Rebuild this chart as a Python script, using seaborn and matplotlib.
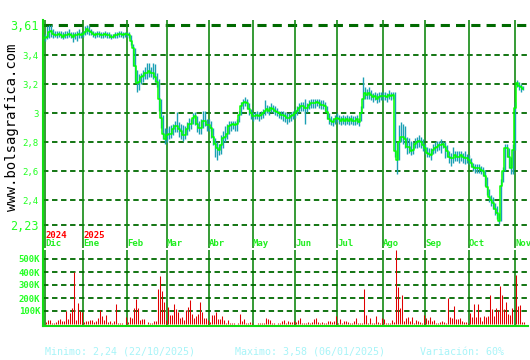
import numpy as np
import pandas as pd
import matplotlib
matplotlib.use('Agg')
import matplotlib.pyplot as plt
from matplotlib import transforms
import seaborn as sns

# ---------------- data (daily, trading days) ----------------
months = ['Dic', 'Ene', 'Feb', 'Mar', 'Abr', 'May', 'Jun', 'Jul', 'Ago', 'Sep', 'Oct', 'Nov']
year_labels = {'Dic': '2024', 'Ene': '2025'}

close_dic = [3.52, 3.53, 3.56, 3.57, 3.55, 3.54, 3.54, 3.55, 3.54, 3.53, 3.54, 3.54, 3.55, 3.54, 3.53, 3.54, 3.54, 3.55, 3.54]
high_dic = [3.55, 3.60, 3.61, 3.61, 3.58, 3.57, 3.57, 3.57, 3.57, 3.56, 3.57, 3.57, 3.58, 3.56, 3.56, 3.56, 3.57, 3.58, 3.56]
low_dic = [3.50, 3.51, 3.52, 3.53, 3.52, 3.53, 3.52, 3.53, 3.52, 3.51, 3.52, 3.52, 3.53, 3.52, 3.49, 3.51, 3.50, 3.52, 3.52]
vol_dic = [18, 31, 31, 5, 10, 18, 31, 38, 23, 23, 100, 38, 87, 125, 402, 31, 159, 100, 90]

close_ene = [3.55, 3.56, 3.58, 3.57, 3.56, 3.55, 3.54, 3.55, 3.55, 3.54, 3.54, 3.55, 3.54, 3.54, 3.53, 3.53, 3.54, 3.54, 3.55, 3.55, 3.54, 3.55]
high_ene = [3.57, 3.60, 3.61, 3.60, 3.58, 3.57, 3.56, 3.57, 3.57, 3.56, 3.56, 3.57, 3.56, 3.56, 3.55, 3.55, 3.56, 3.56, 3.57, 3.57, 3.56, 3.56]
low_ene = [3.53, 3.54, 3.55, 3.54, 3.54, 3.53, 3.52, 3.53, 3.53, 3.52, 3.52, 3.53, 3.52, 3.52, 3.51, 3.52, 3.52, 3.52, 3.53, 3.53, 3.52, 3.53]
vol_ene = [18, 23, 23, 31, 31, 18, 23, 49, 108, 61, 31, 69, 18, 23, 10, 23, 154, 5, 5, 5, 2, 56]

close_feb = [3.55, 3.54, 3.50, 3.45, 3.33, 3.21, 3.22, 3.25, 3.26, 3.28, 3.28, 3.29, 3.28, 3.28, 3.25, 3.22, 3.10, 2.97, 2.86, 2.82]
high_feb = [3.56, 3.56, 3.54, 3.48, 3.45, 3.30, 3.27, 3.28, 3.30, 3.32, 3.35, 3.35, 3.32, 3.35, 3.34, 3.28, 3.24, 3.10, 2.99, 2.90]
low_feb = [3.53, 3.52, 3.47, 3.33, 3.22, 3.15, 3.16, 3.20, 3.22, 3.24, 3.24, 3.25, 3.25, 3.24, 3.22, 3.18, 3.02, 2.90, 2.82, 2.79]
vol_feb = [18, 56, 49, 120, 192, 125, 31, 38, 38, 2, 18, 10, 5, 23, 23, 269, 369, 253, 172, 31]

close_mar = [2.85, 2.86, 2.86, 2.89, 2.91, 2.91, 2.89, 2.88, 2.85, 2.85, 2.89, 2.93, 2.93, 2.97, 2.98, 2.93, 2.90, 2.90, 2.95, 2.95, 2.92]
high_mar = [2.90, 2.91, 2.92, 2.93, 2.95, 3.01, 2.94, 2.93, 2.92, 2.91, 2.94, 2.97, 2.96, 3.00, 3.01, 2.98, 2.95, 2.96, 3.02, 3.02, 2.96]
low_mar = [2.80, 2.82, 2.83, 2.85, 2.87, 2.87, 2.84, 2.82, 2.81, 2.82, 2.85, 2.88, 2.89, 2.93, 2.92, 2.87, 2.86, 2.86, 2.90, 2.91, 2.88]
vol_mar = [128, 69, 69, 154, 113, 95, 49, 56, 31, 108, 128, 184, 74, 49, 61, 74, 169, 95, 49, 44, 31]

close_abr = [2.92, 2.90, 2.84, 2.79, 2.76, 2.75, 2.78, 2.83, 2.84, 2.86, 2.91, 2.92, 2.93, 2.92, 2.93, 2.99, 3.05, 3.07, 3.08, 3.07, 3.03, 3.00]
high_abr = [2.96, 2.95, 2.90, 2.83, 2.80, 2.79, 2.85, 2.88, 2.91, 2.93, 2.95, 2.95, 2.95, 2.95, 2.96, 3.02, 3.08, 3.10, 3.11, 3.10, 3.07, 3.03]
low_abr = [2.88, 2.83, 2.78, 2.70, 2.68, 2.71, 2.72, 2.76, 2.80, 2.82, 2.86, 2.88, 2.89, 2.88, 2.88, 2.94, 2.99, 3.03, 3.05, 3.03, 2.99, 2.96]
vol_abr = [18, 69, 69, 90, 38, 38, 61, 31, 10, 31, 5, 5, 10, 2, 10, 74, 23, 38, 5, 10, 18, 5]

close_may = [2.98, 2.98, 2.99, 2.98, 2.99, 3.00, 3.02, 3.03, 3.02, 3.04, 3.03, 3.02, 3.01, 3.00, 2.99, 2.99, 2.98, 2.97, 2.97, 2.98, 2.99]
high_may = [3.01, 3.01, 3.02, 3.01, 3.02, 3.03, 3.09, 3.06, 3.05, 3.07, 3.06, 3.05, 3.04, 3.02, 3.02, 3.02, 3.01, 3.00, 3.00, 3.01, 3.02]
low_may = [2.95, 2.96, 2.96, 2.95, 2.96, 2.97, 2.99, 3.00, 2.99, 3.01, 3.00, 2.99, 2.98, 2.97, 2.96, 2.95, 2.94, 2.93, 2.94, 2.95, 2.96]
vol_may = [2, 2, 5, 10, 10, 10, 49, 38, 31, 5, 5, 2, 10, 10, 23, 31, 10, 23, 18, 18, 23]

close_jun = [3.00, 3.02, 3.04, 3.05, 3.05, 3.04, 3.04, 3.06, 3.07, 3.07, 3.07, 3.08, 3.07, 3.06, 3.06, 3.05, 3.01, 2.96, 2.95, 2.94, 2.96]
high_jun = [3.03, 3.05, 3.07, 3.08, 3.08, 3.10, 3.07, 3.09, 3.10, 3.10, 3.10, 3.10, 3.10, 3.09, 3.09, 3.08, 3.05, 3.00, 2.98, 2.97, 2.99]
low_jun = [2.97, 2.99, 3.01, 3.02, 3.02, 2.93, 3.01, 3.03, 3.04, 3.04, 3.04, 3.05, 3.04, 3.03, 3.03, 3.02, 2.96, 2.93, 2.92, 2.91, 2.93]
vol_jun = [18, 31, 49, 5, 10, 5, 18, 5, 18, 38, 44, 18, 5, 18, 5, 5, 23, 23, 18, 23, 61]

close_jul = [2.97, 2.96, 2.95, 2.96, 2.95, 2.96, 2.95, 2.96, 2.95, 2.95, 2.96, 2.94, 3.00, 3.10, 3.14, 3.13, 3.14, 3.13, 3.11, 3.12, 3.10, 3.11, 3.12]
high_jul = [3.00, 2.99, 2.98, 2.99, 2.98, 2.99, 2.98, 2.99, 2.98, 2.98, 2.99, 2.97, 3.05, 3.25, 3.18, 3.17, 3.18, 3.16, 3.14, 3.15, 3.14, 3.15, 3.15]
low_jul = [2.94, 2.93, 2.92, 2.93, 2.92, 2.93, 2.92, 2.93, 2.92, 2.92, 2.93, 2.91, 2.95, 3.04, 3.10, 3.10, 3.10, 3.09, 3.08, 3.09, 3.07, 3.08, 3.09]
vol_jul = [5, 38, 5, 23, 23, 18, 5, 10, 23, 44, 5, 10, 5, 269, 69, 5, 49, 5, 10, 61, 18, 5, 49]

close_ago = [3.12, 3.12, 3.11, 3.13, 3.12, 3.13, 2.74, 2.68, 2.80, 2.84, 2.84, 2.82, 2.77, 2.77, 2.74, 2.75, 2.79, 2.80, 2.81, 2.80, 2.78]
high_ago = [3.15, 3.15, 3.14, 3.16, 3.15, 3.15, 3.15, 2.80, 2.92, 2.94, 2.93, 2.91, 2.84, 2.83, 2.81, 2.80, 2.83, 2.84, 2.85, 2.84, 2.82]
low_ago = [3.09, 3.09, 3.08, 3.10, 3.09, 3.10, 2.70, 2.58, 2.68, 2.80, 2.79, 2.76, 2.72, 2.73, 2.71, 2.72, 2.76, 2.76, 2.77, 2.76, 2.74]
vol_ago = [38, 5, 5, 5, 31, 18, 568, 287, 125, 223, 23, 44, 56, 23, 56, 5, 31, 23, 18, 5, 69]

close_sep = [2.76, 2.73, 2.72, 2.71, 2.75, 2.76, 2.77, 2.78, 2.78, 2.79, 2.77, 2.74, 2.70, 2.69, 2.69, 2.71, 2.70, 2.70, 2.71, 2.70, 2.69, 2.69]
high_sep = [2.79, 2.77, 2.76, 2.76, 2.79, 2.80, 2.81, 2.81, 2.82, 2.81, 2.80, 2.78, 2.74, 2.73, 2.77, 2.74, 2.74, 2.74, 2.74, 2.73, 2.74, 2.72]
low_sep = [2.72, 2.70, 2.70, 2.68, 2.72, 2.73, 2.74, 2.75, 2.73, 2.76, 2.69, 2.70, 2.66, 2.64, 2.66, 2.67, 2.67, 2.66, 2.67, 2.66, 2.65, 2.66]
vol_sep = [44, 31, 56, 23, 31, 5, 5, 18, 23, 18, 5, 197, 56, 49, 138, 38, 38, 49, 23, 18, 18, 5]

close_oct = [2.68, 2.66, 2.63, 2.62, 2.62, 2.62, 2.61, 2.60, 2.57, 2.49, 2.42, 2.40, 2.38, 2.34, 2.31, 2.26, 2.50, 2.60, 2.76, 2.76, 2.70, 2.62, 2.75]
high_oct = [2.71, 2.69, 2.66, 2.65, 2.65, 2.65, 2.64, 2.63, 2.61, 2.56, 2.48, 2.44, 2.42, 2.38, 2.36, 2.31, 2.55, 2.63, 2.79, 2.79, 2.76, 2.70, 2.79]
low_oct = [2.65, 2.63, 2.60, 2.59, 2.59, 2.59, 2.58, 2.57, 2.50, 2.44, 2.39, 2.36, 2.34, 2.30, 2.27, 2.24, 2.26, 2.53, 2.60, 2.70, 2.62, 2.58, 2.58]
vol_oct = [82, 56, 154, 56, 154, 56, 23, 61, 56, 61, 223, 115, 61, 120, 108, 292, 223, 113, 166, 74, 69, 125, 2]

close_nov = [3.04, 3.21, 3.19, 3.18, 3.17]
high_nov = [3.08, 3.23, 3.22, 3.20, 3.19]
low_nov = [2.75, 3.18, 3.16, 3.15, 3.16]
vol_nov = [376, 138, 146, 18, 18]

price_ticks = [3.61, 3.4, 3.2, 3.0, 2.8, 2.6, 2.4, 2.23]
price_tick_labels = ['3,61', '3,4', '3,2', '3', '2,8', '2,6', '2,4', '2,23']
vol_ticks = [100, 200, 300, 400, 500]
vol_tick_labels = ['100K', '200K', '300K', '400K', '500K']
footer_min = 'Minimo: 2,24 (22/10/2025)'
footer_max = 'Maximo: 3,58 (06/01/2025)'
footer_var = 'Variación: 60%'
watermark = 'www.bolsagrafica.com'

# ---------------- assemble ----------------
closes = [close_dic, close_ene, close_feb, close_mar, close_abr, close_may, close_jun, close_jul, close_ago, close_sep, close_oct, close_nov]
highs = [high_dic, high_ene, high_feb, high_mar, high_abr, high_may, high_jun, high_jul, high_ago, high_sep, high_oct, high_nov]
lows = [low_dic, low_ene, low_feb, low_mar, low_abr, low_may, low_jun, low_jul, low_ago, low_sep, low_oct, low_nov]
vols = [vol_dic, vol_ene, vol_feb, vol_mar, vol_abr, vol_may, vol_jun, vol_jul, vol_ago, vol_sep, vol_oct, vol_nov]

rows = []
for m, c, h, l, v in zip(months, closes, highs, lows, vols):
    for k in range(len(c)):
        rows.append(dict(month=m, close=c[k], high=h[k], low=l[k], vol=v[k], first=(k == 0)))
df = pd.DataFrame(rows)
df['idx'] = np.arange(len(df))
month_starts = df.loc[df['first'], ['idx', 'month']].values

# ---------------- figure ----------------
W, H = 530, 360
fig = plt.figure(figsize=(W / 100, H / 100), dpi=100, facecolor='white')

def rect(x0, y0, x1, y1):
    return [x0 / W, 1 - y1 / H, (x1 - x0) / W, (y1 - y0) / H]

ax = fig.add_axes(rect(43, 20, 528, 248))
axv = fig.add_axes(rect(43, 250, 528, 326))

GRID = '#006a00'
VLINE = '#138a13'
SPINE = '#11dd11'
TXT = '#22ff22'

# price panel
ax.set_xlim(-1, 241.5)
ppu = 145.0
ax.set_ylim(2.23 - 23 / ppu, 3.61 + 5 / ppu)
for t in price_ticks:
    ax.axhline(t, color=GRID, lw=2.2 if t == 3.61 else 1.3, dashes=(3, 2), zorder=1)
for i, m in month_starts:
    ax.axvline(i, color=VLINE, lw=1.2, zorder=1)
    axv.axvline(i, color=VLINE, lw=1.2, zorder=1)

ax.vlines(df['idx'], df['low'], df['high'], color='#1aa0b4', lw=1.0, zorder=2)
sns.lineplot(data=df, x='idx', y='close', ax=ax, color='#00ff00', lw=1.1,
             drawstyle='steps-mid', estimator=None, zorder=3)

ax.set_yticks(price_ticks)
ax.set_yticklabels(price_tick_labels)
for lab, t in zip(ax.get_yticklabels(), price_ticks):
    lab.set_fontsize(8.5 if t in (3.61, 2.23) else 6.5)
    lab.set_color(TXT)
    lab.set_family('DejaVu Sans Mono')
ax.tick_params(axis='y', length=0, pad=3)
ax.set_xticks([])
ax.set_xlabel('')
ax.set_ylabel('')
for s in ['top', 'right', 'bottom']:
    ax.spines[s].set_visible(False)
ax.spines['left'].set_color(SPINE)
ax.spines['left'].set_linewidth(1.5)

tr = transforms.blended_transform_factory(ax.transData, fig.transFigure)
for i, m in month_starts:
    ax.text(i, 1 - 244 / H, m, transform=tr, color='#22ee22', fontsize=6.5,
            family='DejaVu Sans Mono', fontweight='bold', ha='left', va='center')
    if m in year_labels:
        ax.text(i, 1 - 236 / H, year_labels[m], transform=tr, color='#ff0000', fontsize=6.5,
                family='DejaVu Sans Mono', fontweight='bold', ha='left', va='center')

# volume panel (1-px red bars, offset a quarter step so they land on whole pixels)
axv.vlines(df['idx'] + 0.25, 0, df['vol'], color='#e00000', lw=0.75, zorder=3)
axv.set_xlim(-1, 241.5)
axv.set_ylim(-2 / 13 * 100, 74 / 13 * 100)
for t in vol_ticks:
    axv.axhline(t, color=GRID, lw=1.3, dashes=(3, 2), zorder=1)
axv.set_yticks(vol_ticks)
axv.set_yticklabels(vol_tick_labels)
for lab in axv.get_yticklabels():
    lab.set_fontsize(6.5)
    lab.set_color(TXT)
    lab.set_family('DejaVu Sans Mono')
    lab.set_fontweight('bold')
axv.tick_params(axis='y', length=0, pad=2)
axv.set_xticks([])
axv.set_xlabel('')
axv.set_ylabel('')
for s in ['top', 'right']:
    axv.spines[s].set_visible(False)
axv.spines['left'].set_color(SPINE)
axv.spines['left'].set_linewidth(1.5)
axv.spines['bottom'].set_color(SPINE)
axv.spines['bottom'].set_linewidth(1.5)

# footer and watermark
fy = 1 - 352 / H
fcol = '#a8f4f8'
fig.text(45 / W, fy, footer_min, color=fcol, fontsize=7.2, family='DejaVu Sans Mono', va='center', ha='left')
fig.text(235 / W, fy, footer_max, color=fcol, fontsize=7.2, family='DejaVu Sans Mono', va='center', ha='left')
fig.text(420 / W, fy, footer_var, color=fcol, fontsize=7.2, family='DejaVu Sans Mono', va='center', ha='left')
fig.text(12 / W, 1 - 127 / H, watermark, color='black', fontsize=10, family='DejaVu Sans Mono',
         rotation=90, va='center', ha='center')

fig.savefig('out.png', dpi=100, facecolor='white')
